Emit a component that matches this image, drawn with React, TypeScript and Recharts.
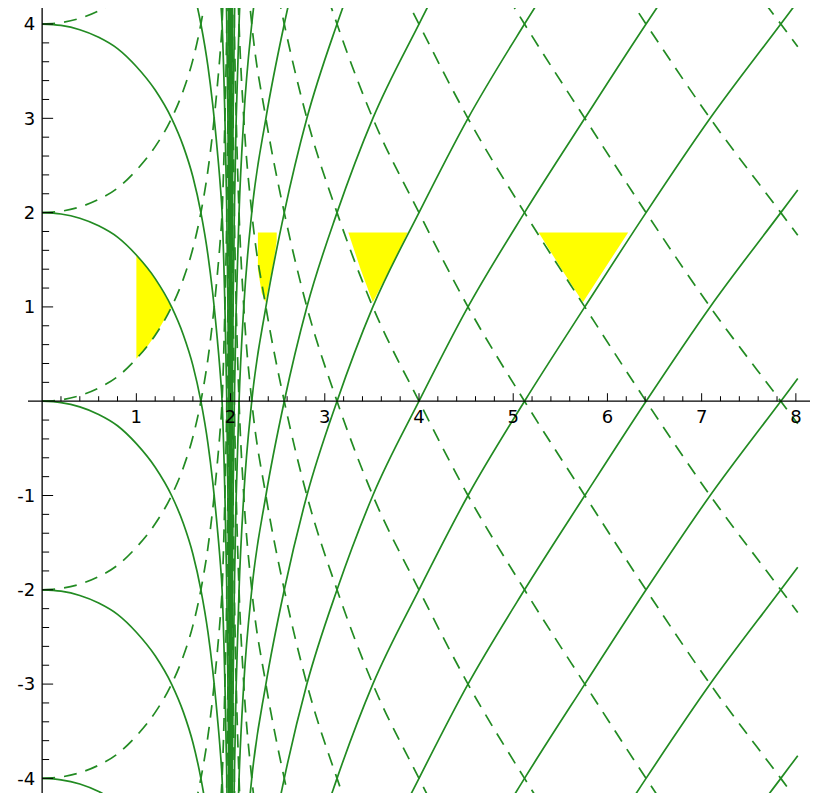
import React from 'react';
import { ComposedChart, Line, Area, XAxis, YAxis, ReferenceLine, ReferenceDot } from 'recharts';

// Left family profile (x in [0,2)): curves are y = shift + L(x) (solid) and y = shift - L(x) (dashed)
const LEFT_X = [0, 0.2, 0.4, 0.6, 0.8, 1.0, 1.2, 1.374, 1.5, 1.6, 1.685, 1.76, 1.81, 1.86, 1.89, 1.91, 1.94, 1.96, 1.972, 1.981, 1.987, 1.992, 1.995, 1.997, 1.9985];
const LEFT_PROFILE = [0, -0.015, -0.06, -0.14, -0.26, -0.45, -0.7, -1.0, -1.3, -1.62, -2.0, -2.45, -2.85, -3.35, -3.7, -4.0, -5.0, -6.0, -7.0, -8.0, -9.0, -10.0, -11.0, -12.0, -13.0];

// Right family profile (x in (2,8]): curves are y = shift + R(x) (solid) and y = shift - R(x) (dashed)
const RIGHT_X = [2.005, 2.008, 2.012, 2.018, 2.027, 2.04, 2.06, 2.09, 2.14, 2.225, 2.375, 2.57, 2.81, 3.13, 3.51, 4.0, 4.52, 5.12, 5.76, 6.41, 7.09, 7.84, 8.02];
const RIGHT_PROFILE = [-13, -12, -11, -10, -9, -8, -7, -6, -5, -4, -3, -2, -1, 0, 1, 2, 3, 4, 5, 6, 7, 8, 8.24];

const SHIFTS = [-14, -12, -10, -8, -6, -4, -2, 0, 2, 4, 6, 8, 10, 12, 14, 16];

// Yellow regions: [x, low, high]
const FILL_1 = [[1.0, 0.45, 1.55], [1.1, 0.56, 1.44], [1.2, 0.7, 1.3], [1.3, 0.87, 1.13], [1.374, 1.0, 1.0]];
const FILL_2 = [[2.29, 1.4, 1.79], [2.33, 1.15, 1.79], [2.37, 1.05, 1.79], [2.42, 1.3, 1.79], [2.46, 1.5, 1.79], [2.49, 1.7, 1.79]];
const FILL_3 = [[3.25, 1.79, 1.79], [3.38, 1.4, 1.79], [3.51, 1.05, 1.79], [3.7, 1.42, 1.79], [3.88, 1.79, 1.79]];
const FILL_4 = [[5.27, 1.79, 1.79], [5.5, 1.42, 1.79], [5.74, 1.05, 1.79], [5.98, 1.42, 1.79], [6.22, 1.79, 1.79]];
const FILLS = [FILL_1, FILL_2, FILL_3, FILL_4];

const X_MAJOR = [1, 2, 3, 4, 5, 6, 7, 8];
const X_MINOR = [0.2, 0.4, 0.6, 0.8, 1.2, 1.4, 1.6, 1.8, 2.2, 2.4, 2.6, 2.8, 3.2, 3.4, 3.6, 3.8, 4.2, 4.4, 4.6, 4.8, 5.2, 5.4, 5.6, 5.8, 6.2, 6.4, 6.6, 6.8, 7.2, 7.4, 7.6, 7.8];
const Y_MAJOR = [-4, -3, -2, -1, 1, 2, 3, 4];
const Y_MINOR = [-3.8, -3.6, -3.4, -3.2, -2.8, -2.6, -2.4, -2.2, -1.8, -1.6, -1.4, -1.2, -0.8, -0.6, -0.4, -0.2, 0.2, 0.4, 0.6, 0.8, 1.2, 1.4, 1.6, 1.8, 2.2, 2.4, 2.6, 2.8, 3.2, 3.4, 3.6, 3.8];

const GREEN = '#228b22';
const FONT = 'DejaVu Sans';
const LW = 1.7;
const DASH = '13 9';

const build = (xs: number[], prof: number[], shift: number, sign: number) =>
  xs.map((x, i) => ({ x, y: shift + sign * prof[i] }));

const upTick = (len: number) => (p: any) => (
  <line x1={p.cx} y1={p.cy} x2={p.cx} y2={p.cy - len} stroke="#000" strokeWidth={1} />
);
const rightTick = (len: number) => (p: any) => (
  <line x1={p.cx} y1={p.cy} x2={p.cx + len} y2={p.cy} stroke="#000" strokeWidth={1} />
);

export default function App() {
  const curves: React.ReactNode[] = [];
  SHIFTS.forEach((s) => {
    curves.push(
      <Line key={`ls${s}`} data={build(LEFT_X, LEFT_PROFILE, s, 1)} dataKey="y" type="monotone" stroke={GREEN} strokeWidth={LW} dot={false} activeDot={false} isAnimationActive={false} />,
      <Line key={`ld${s}`} data={build(LEFT_X, LEFT_PROFILE, s, -1)} dataKey="y" type="monotone" stroke={GREEN} strokeWidth={LW} strokeDasharray={DASH} dot={false} activeDot={false} isAnimationActive={false} />,
      <Line key={`rs${s}`} data={build(RIGHT_X, RIGHT_PROFILE, s, 1)} dataKey="y" type="monotone" stroke={GREEN} strokeWidth={LW} dot={false} activeDot={false} isAnimationActive={false} />,
      <Line key={`rd${s}`} data={build(RIGHT_X, RIGHT_PROFILE, s, -1)} dataKey="y" type="monotone" stroke={GREEN} strokeWidth={LW} strokeDasharray={DASH} dot={false} activeDot={false} isAnimationActive={false} />
    );
  });

  return (
    <div style={{ position: 'absolute', left: 0, top: 0, background: '#fff' }}>
      <ComposedChart width={815} height={793} margin={{ top: 8, right: 5, bottom: 0, left: 28 }}>
        <XAxis dataKey="x" type="number" domain={[-0.15, 8.15]} allowDataOverflow hide />
        <YAxis type="number" domain={[-4.155, 4.17]} allowDataOverflow hide />
        {FILLS.map((f, i) => (
          <Area
            key={`f${i}`}
            data={f.map(([x, lo, hi]) => ({ x, r: [lo, hi] }))}
            dataKey="r"
            type="linear"
            fill="#ffff00"
            fillOpacity={1}
            stroke="none"
            dot={false}
            activeDot={false}
            isAnimationActive={false}
          />
        ))}
        {curves}
        <ReferenceLine y={0} stroke="#000" strokeWidth={1.3} />
        <ReferenceLine x={0} stroke="#000" strokeWidth={1.3} />
        {X_MINOR.map((t) => (
          <ReferenceDot key={`xm${t}`} x={t} y={0} r={0} shape={upTick(5)} />
        ))}
        {X_MAJOR.map((t) => (
          <ReferenceDot
            key={`xM${t}`}
            x={t}
            y={0}
            r={0}
            shape={upTick(8)}
            label={{ value: String(t), position: 'bottom', offset: 9, fill: '#000', fontSize: 18, fontFamily: FONT }}
          />
        ))}
        {Y_MINOR.map((t) => (
          <ReferenceDot key={`ym${t}`} x={0} y={t} r={0} shape={rightTick(7)} />
        ))}
        {Y_MAJOR.map((t) => (
          <ReferenceDot
            key={`yM${t}`}
            x={0}
            y={t}
            r={0}
            shape={rightTick(11)}
            label={{ value: String(t), position: 'left', offset: 7, fill: '#000', fontSize: 18, fontFamily: FONT }}
          />
        ))}
      </ComposedChart>
    </div>
  );
}
